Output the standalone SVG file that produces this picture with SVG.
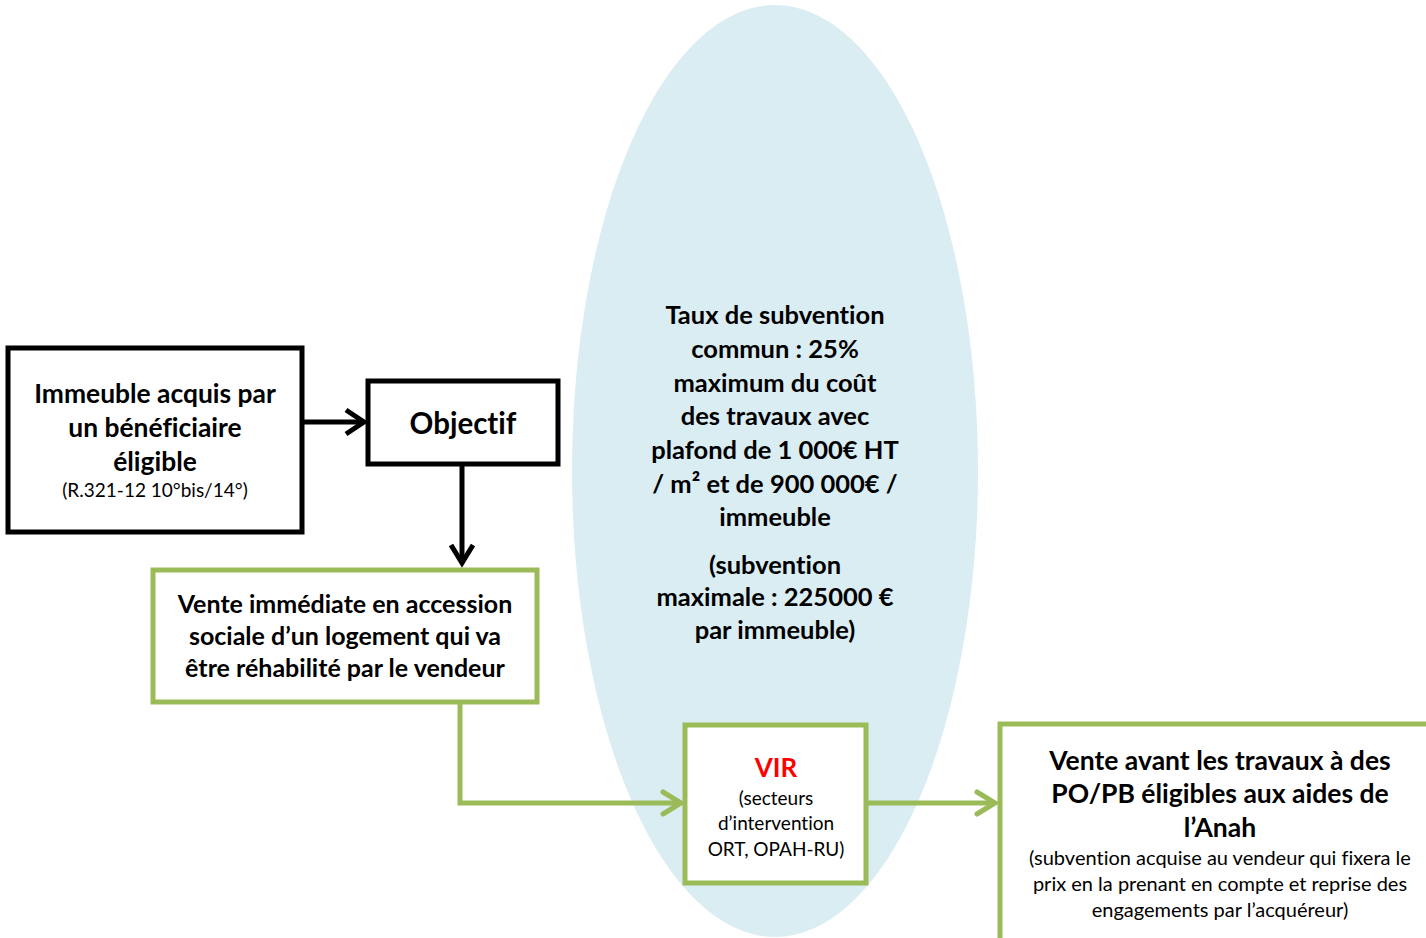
<svg xmlns="http://www.w3.org/2000/svg" width="1426" height="938" viewBox="0 0 1426 938">
<style>
.b{font-family:Lato,"Open Sans",sans-serif;font-weight:bold;fill:#000;text-anchor:middle;font-variant-ligatures:none}
.r{font-family:Lato,"Open Sans",sans-serif;fill:#000;text-anchor:middle;font-variant-ligatures:none}
.blk{fill:#fff;stroke:#000;stroke-width:5}
.grn{fill:#fff;stroke:#9bbb59;stroke-width:5}
.red{fill:#ff0000}
</style>
<rect width="1426" height="938" fill="#fff"/>
<g id="ellipse">
<ellipse cx="775" cy="471" rx="203" ry="466" fill="#daedf3"/>
<text class="b" font-size="25.5"><tspan x="775" y="324">Taux de subvention</tspan><tspan x="775" y="358">commun : 25%</tspan><tspan x="775" y="392">maximum du coût</tspan><tspan x="775" y="425">des travaux avec</tspan><tspan x="775" y="459">plafond de 1 000€ HT</tspan><tspan x="775" y="493">/ m² et de 900 000€ /</tspan><tspan x="775" y="526">immeuble</tspan><tspan x="775" y="574">(subvention</tspan><tspan x="775" y="606">maximale : 225000 €</tspan><tspan x="775" y="639">par immeuble)</tspan></text>
</g>
<g id="connectors" fill="none">
<path d="M302 422 H364" stroke="#000" stroke-width="5"/>
<path d="M346 410 L364 422 L346 434" stroke="#000" stroke-width="5"/>
<path d="M462 464 V563" stroke="#000" stroke-width="5"/>
<path d="M451 545 L462 563 L473 545" stroke="#000" stroke-width="5"/>
<path d="M460 702 V803 H681" stroke="#9bbb59" stroke-width="5"/>
<path d="M663 792 L681 803 L663 814" stroke="#9bbb59" stroke-width="5" stroke-linecap="round"/>
<path d="M866 803 H995" stroke="#9bbb59" stroke-width="5"/>
<path d="M977 792 L995 803 L977 814" stroke="#9bbb59" stroke-width="5" stroke-linecap="round"/>
</g>
<g id="n1">
<rect class="blk" x="8" y="348" width="294" height="184"/>
<text class="b" font-size="26.4"><tspan x="155" y="403">Immeuble acquis par</tspan><tspan x="155" y="437">un bénéficiaire</tspan><tspan x="155" y="471">éligible</tspan></text>
<text class="r" font-size="19" x="155" y="497">(R.321-12 10°bis/14°)</text>
</g>
<g id="n2">
<rect class="blk" x="368" y="381" width="190" height="83"/>
<text class="b" font-size="29.5" x="463" y="434">Objectif</text>
</g>
<g id="n3">
<rect class="grn" x="153" y="570" width="384" height="132"/>
<text class="b" font-size="25"><tspan x="345" y="613">Vente immédiate en accession</tspan><tspan x="345" y="645">sociale d’un logement qui va</tspan><tspan x="345" y="677">être réhabilité par le vendeur</tspan></text>
</g>
<g id="n4">
<rect class="grn" x="685" y="725" width="181" height="158"/>
<text class="b red" font-size="26" x="776" y="777" style="fill:#ff0000">VIR</text>
<text class="r" font-size="19"><tspan x="776" y="805">(secteurs</tspan><tspan x="776" y="830">d’intervention</tspan><tspan x="776" y="856">ORT, OPAH-RU)</tspan></text>
</g>
<g id="n5">
<rect class="grn" x="1000" y="724" width="432" height="220"/>
<text class="b" font-size="26.5"><tspan x="1220" y="770">Vente avant les travaux à des</tspan><tspan x="1220" y="803">PO/PB éligibles aux aides de</tspan><tspan x="1220" y="837">l’Anah</tspan></text>
<text class="r" font-size="20"><tspan x="1220" y="865">(subvention acquise au vendeur qui fixera le</tspan><tspan x="1220" y="891">prix en la prenant en compte et reprise des</tspan><tspan x="1220" y="917">engagements par l’acquéreur)</tspan></text>
</g>
</svg>
